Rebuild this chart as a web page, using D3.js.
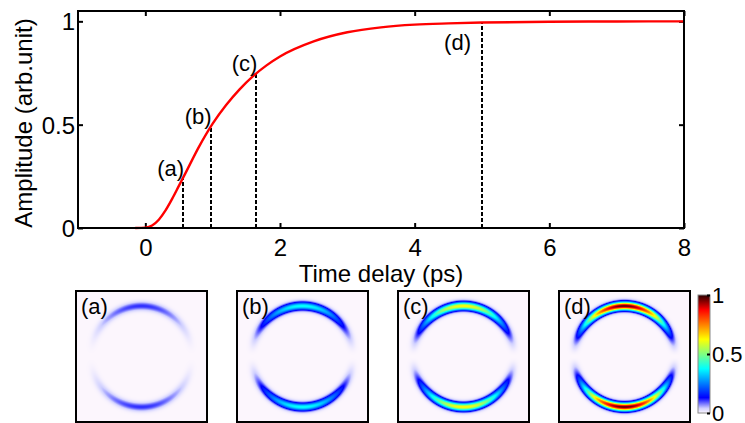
<!DOCTYPE html>
<html>
<head>
<meta charset="utf-8">
<script src="https://cdn.jsdelivr.net/npm/d3@7"></script>
<style>
  body { margin: 0; background: #fff; }
  svg { display: block; font-family: "Liberation Sans", Arial, Helvetica, sans-serif; }
  .axis text { font-size: 24px; fill: #000; }
  .axis line { stroke: #000; stroke-width: 2px; }
  .cbar text { font-size: 22px; }
</style>
</head>
<body>
<svg id="chart" width="745" height="423"></svg>
<script>
// curve
var timeVals = [-0.15, 0, 0.1, 0.2, 0.3, 0.4, 0.5, 0.6, 0.8, 1.0, 1.2, 1.4, 1.6, 1.8, 2.0, 2.5, 3.0, 3.5, 4.0, 4.5, 5.0, 6.0, 7.0, 8.0];
var ampVals  = [0, 0.002, 0.012, 0.04, 0.085, 0.142, 0.205, 0.268, 0.395, 0.505, 0.595, 0.671, 0.735, 0.787, 0.83, 0.903, 0.947, 0.971, 0.984, 0.99, 0.994, 0.998, 0.9995, 1.0];

// marked delays (a)-(d)
var markNames = ["(a)", "(b)", "(c)", "(d)"];
var markTimes = [0.56, 0.97, 1.65, 5.0];
var markAmps  = [0.243, 0.492, 0.748, 0.994];

// peak value of each ring image on the colour scale
var ringPeaks = [0.11, 0.38, 0.62, 0.97];

var xTicks = [0, 2, 4, 6, 8];
var yTicks = [0, 0.5, 1];
var cbTicks = [0, 0.5, 1];

// colormap (white -> jet)
var cmapStops  = [0, 0.04, 0.13, 0.375, 0.5, 0.625, 0.875, 1];
var cmapColors = ["#fcf6fd", "#d0d0ff", "#0000ff", "#00ffff", "#80ff80", "#ffff00", "#ff0000", "#2a0000"];

var svg = d3.select("#chart");

// ---- top plot
var pL = 78, pR = 684, pT = 11, pB = 228;
var x = d3.scaleLinear().domain([-1, 8]).range([pL, pR]);
var y = d3.scaleLinear().domain([0, 1.05]).range([pB, pT]);

var pts = timeVals.map(function (t, i) { return [t, ampVals[i]]; });
var fmt = function (d) { return d === 0.5 ? "0.5" : d3.format("d")(d); };

svg.append("g").attr("class", "axis")
    .attr("transform", "translate(0," + pB + ")")
    .call(d3.axisBottom(x).tickValues(xTicks).tickSize(-5).tickPadding(11).tickFormat(fmt))
    .call(function (g) { g.select(".domain").remove(); });
svg.append("g").attr("class", "axis")
    .attr("transform", "translate(0," + pT + ")")
    .call(d3.axisTop(x).tickValues(xTicks).tickSize(-5).tickFormat(""))
    .call(function (g) { g.select(".domain").remove(); });
svg.append("g").attr("class", "axis")
    .attr("transform", "translate(" + pL + ",0)")
    .call(d3.axisLeft(y).tickValues(yTicks).tickSize(-5).tickPadding(3).tickFormat(fmt))
    .call(function (g) { g.select(".domain").remove(); g.selectAll("text").attr("dy", "0.35em"); });
svg.append("g").attr("class", "axis")
    .attr("transform", "translate(" + pR + ",0)")
    .call(d3.axisRight(y).tickValues(yTicks).tickSize(-5).tickFormat(""))
    .call(function (g) { g.select(".domain").remove(); });

// dashed markers
svg.selectAll(".mark").data(markTimes).enter().append("line")
    .attr("x1", function (d) { return Math.round(x(d)); })
    .attr("x2", function (d) { return Math.round(x(d)); })
    .attr("y1", y(0))
    .attr("y2", function (d, i) { return y(markAmps[i]); })
    .attr("stroke", "#000").attr("stroke-width", 2).attr("stroke-dasharray", "4,2");

var line = d3.line().x(function (d) { return x(d[0]); }).y(function (d) { return y(d[1]); }).curve(d3.curveMonotoneX);
svg.append("path").datum(pts).attr("d", line)
    .attr("fill", "none").attr("stroke", "#ff0000").attr("stroke-width", 2.4);

svg.selectAll(".mlab").data(markNames).enter().append("text")
    .attr("x", function (d, i) { return x(markTimes[i]) + (i === 3 ? -11 : 1); })
    .attr("y", function (d, i) { return y(markAmps[i]) + (i === 3 ? 27 : -2); })
    .attr("text-anchor", "end").attr("font-size", 22).text(function (d) { return d; });

svg.append("rect").attr("x", pL).attr("y", pT).attr("width", pR - pL).attr("height", pB - pT)
    .attr("fill", "none").attr("stroke", "#000").attr("stroke-width", 2);

svg.append("text").attr("x", (pL + pR) / 2).attr("y", 282).attr("text-anchor", "middle")
    .attr("font-size", 24).text("Time delay (ps)");
svg.append("text").attr("transform", "translate(32,123) rotate(-90)").attr("text-anchor", "middle")
    .attr("font-size", 24).text("Amplitude (arb.unit)");

// ---- ring images
var color = d3.scaleLinear().domain(cmapStops).range(cmapColors).interpolate(d3.interpolateRgb).clamp(true);
var panelSize = 131, panelTop = 291;
var panelX = d3.scalePoint().domain(d3.range(ringPeaks.length)).range([76, 559]);
var ringR = 50.5, ringSig = 2.8;

function ringImage(peak) {
    var cv = document.createElement("canvas");
    cv.width = panelSize; cv.height = panelSize;
    var ctx = cv.getContext("2d");
    var img = ctx.createImageData(panelSize, panelSize);
    var c0 = (panelSize - 1) / 2;
    for (var j = 0; j < panelSize; j++) {
        for (var i = 0; i < panelSize; i++) {
            var dx = i - c0, dy = j - c0;
            var r = Math.sqrt(dx * dx + dy * dy);
            var s = r > 0 ? dy / r : 0;
            var v = peak * s * s * Math.exp(-(r - ringR) * (r - ringR) / (2 * ringSig * ringSig));
            var c = d3.rgb(color(v));
            var k = (j * panelSize + i) * 4;
            img.data[k] = c.r; img.data[k + 1] = c.g; img.data[k + 2] = c.b; img.data[k + 3] = 255;
        }
    }
    ctx.putImageData(img, 0, 0);
    return cv.toDataURL();
}

var panels = svg.selectAll(".panel").data(ringPeaks).enter().append("g")
    .attr("transform", function (d, i) { return "translate(" + panelX(i) + "," + panelTop + ")"; });
panels.append("image").attr("width", panelSize).attr("height", panelSize)
    .attr("href", function (d) { return ringImage(d); });
panels.append("rect").attr("width", panelSize).attr("height", panelSize)
    .attr("fill", "none").attr("stroke", "#000").attr("stroke-width", 2);
panels.append("text").attr("x", 5).attr("y", 23).attr("font-size", 22)
    .text(function (d, i) { return markNames[i]; });

// ---- colorbar
var cbX = 698, cbW = 12, cbTop = 295, cbBot = 413;
var cy = d3.scaleLinear().domain([0, 1]).range([cbBot, cbTop]);
var grad = svg.append("defs").append("linearGradient").attr("id", "cb")
    .attr("x1", 0).attr("y1", 1).attr("x2", 0).attr("y2", 0);
grad.selectAll("stop").data(cmapStops).enter().append("stop")
    .attr("offset", function (d) { return d; })
    .attr("stop-color", function (d, i) { return cmapColors[i]; });
svg.append("rect").attr("x", cbX).attr("y", cbTop).attr("width", cbW).attr("height", cbBot - cbTop)
    .attr("fill", "url(#cb)").attr("stroke", "#888").attr("stroke-width", 1);
svg.append("g").attr("class", "axis cbar")
    .attr("transform", "translate(" + (cbX + cbW) + ",0)")
    .call(d3.axisRight(cy).tickValues(cbTicks).tickSize(-3).tickPadding(2).tickFormat(fmt))
    .call(function (g) {
        g.select(".domain").remove();
        g.selectAll("line").attr("stroke-width", 1).attr("stroke", "#555");
        g.selectAll("text").attr("dy", "0.35em");
    });
</script>
</body>
</html>
